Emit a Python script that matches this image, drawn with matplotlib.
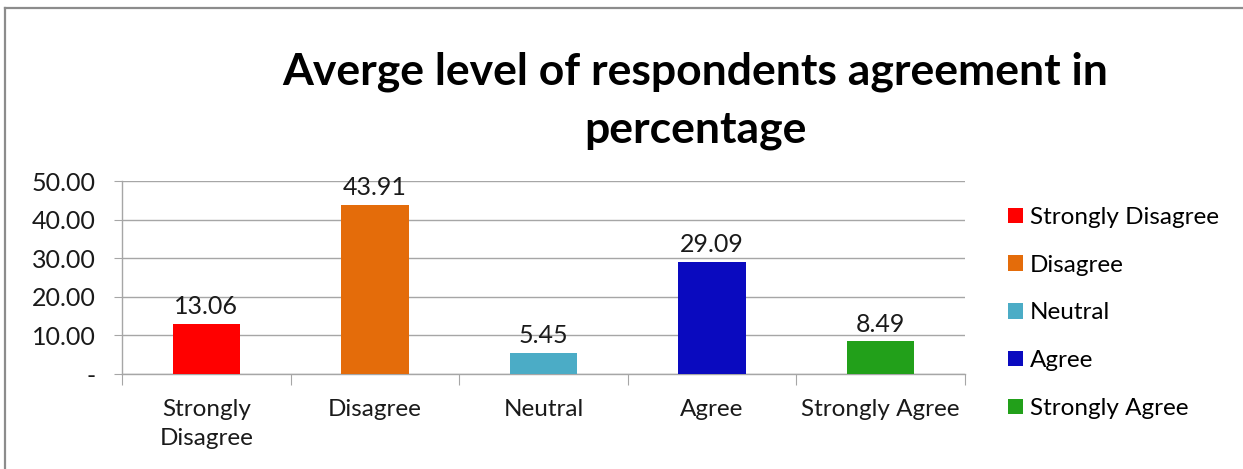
import matplotlib
matplotlib.use("Agg")
import matplotlib.pyplot as plt
from matplotlib.patches import Patch
from matplotlib.lines import Line2D

categories = ["Strongly\nDisagree", "Disagree", "Neutral", "Agree", "Strongly Agree"]
legend_labels = ["Strongly Disagree", "Disagree", "Neutral", "Agree", "Strongly Agree"]
values = [13.06, 43.91, 5.45, 29.09, 8.49]
colors = ["#FF0000", "#E46C0A", "#4BACC6", "#0A0ABF", "#22A01A"]
yticks = [0, 10, 20, 30, 40, 50]

plt.rcParams["font.family"] = ["Lato", "DejaVu Sans"]

W, H = 1243, 469
fig = plt.figure(figsize=(W / 100, H / 100), dpi=100)

# outer chart frame: top and left edges
frame_kw = dict(transform=fig.transFigure, color="#8C8C8C", linewidth=1.6)
fig.add_artist(Line2D([5 / W, 1.0], [1 - 8 / H, 1 - 8 / H], **frame_kw))
fig.add_artist(Line2D([5 / W, 5 / W], [0.0, 1 - 8 / H], **frame_kw))

ax = fig.add_axes([122 / W, 1 - 374 / H, (965 - 122) / W, (374 - 181) / H])
x = list(range(len(values)))
bars = ax.bar(x, values, width=0.4, color=colors, zorder=3)

ax.set_xlim(-0.5, len(values) - 0.5)
ax.set_ylim(0, 50)
ax.set_yticks(yticks)
ax.set_yticklabels(["-" if v == 0 else f"{v:.2f}" for v in yticks])
ax.yaxis.grid(True, color="#A6A6A6", linewidth=1.0, zorder=0)
ax.set_axisbelow(True)

for s in ["top", "right"]:
    ax.spines[s].set_visible(False)
for s in ["left", "bottom"]:
    ax.spines[s].set_color("#A6A6A6")
    ax.spines[s].set_linewidth(1.0)

ax.tick_params(axis="y", length=6, color="#A6A6A6", labelsize=18, pad=13, labelcolor="#1A1A1A")
# category ticks sit at the boundaries between categories
ax.set_xticks([i - 0.5 for i in range(len(values) + 1)])
ax.set_xticklabels([])
ax.tick_params(axis="x", length=8, color="#A6A6A6")
for i, c in enumerate(categories):
    ax.text(i, -0.128, c, transform=ax.get_xaxis_transform(), ha="center", va="top",
            fontsize=17.5, linespacing=1.5, color="#1A1A1A")

for b, v in zip(bars, values):
    ax.annotate(f"{v:.2f}", (b.get_x() + b.get_width() / 2, v), xytext=(0, 4),
                textcoords="offset points", ha="center", va="bottom", fontsize=18, color="#1A1A1A")

fig.text(695 / W, 1 - 72 / H, "Averge level of respondents agreement in", ha="center", va="center",
         fontsize=32, fontweight="bold", color="black")
fig.text(695 / W, 1 - 130 / H, "percentage", ha="center", va="center",
         fontsize=32, fontweight="bold", color="black")

handles = [Patch(facecolor=c, edgecolor="none") for c in colors]
fig.legend(handles, legend_labels, loc="upper left", bbox_to_anchor=(1008 / W, 1 - 207 / H),
           frameon=False, fontsize=17.5, handlelength=0.6, handleheight=0.6, handletextpad=0.3,
           labelspacing=1.1, borderaxespad=0, borderpad=0)

fig.savefig("out.png", dpi=100, facecolor="white")
